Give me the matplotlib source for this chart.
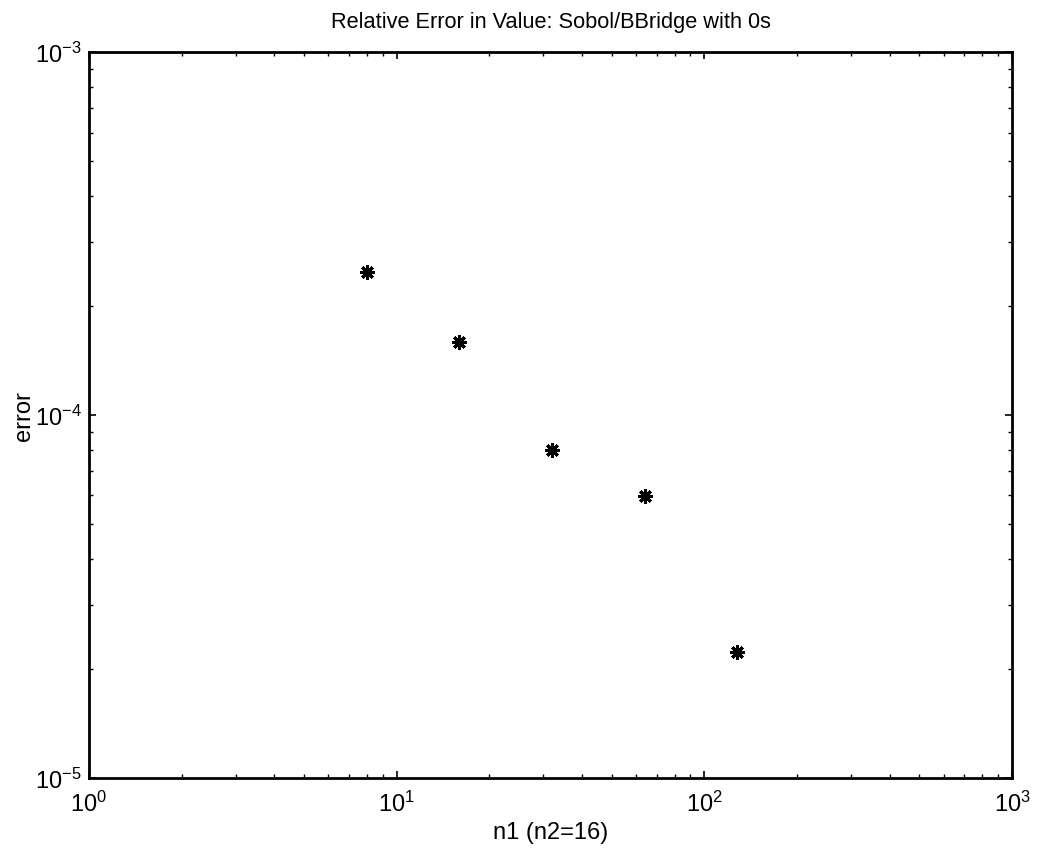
import matplotlib
matplotlib.use("Agg")
import matplotlib.pyplot as plt
from matplotlib.ticker import LogLocator, NullFormatter

plt.rcParams['font.family'] = ['Liberation Sans', 'DejaVu Sans']
plt.rcParams['mathtext.fontset'] = 'custom'
plt.rcParams['mathtext.rm'] = 'Liberation Sans'

n1 = [8, 16, 32, 64, 128]
err = [2.48e-4, 1.59e-4, 8.0e-5, 5.97e-5, 2.23e-5]

fig = plt.figure(figsize=(10.37, 8.53), dpi=100)
ax = fig.add_axes([0.0858, 0.0868, 0.9759 - 0.0858, 0.9379 - 0.0868])
ax.plot(n1, err, linestyle='none', marker=(4, 2, 0), markersize=10.5, markeredgewidth=2.2, color='black')
ax.plot(n1, err, linestyle='none', marker=(4, 2, 45), markersize=10.5, markeredgewidth=2.2, color='black')
ax.set_xscale('log')
ax.set_yscale('log')
ax.set_xlim(1, 1000)
ax.set_ylim(1e-5, 1e-3)
ax.xaxis.set_major_locator(LogLocator(base=10, numticks=10))
ax.yaxis.set_major_locator(LogLocator(base=10, numticks=10))
ax.xaxis.set_minor_locator(LogLocator(base=10, subs=range(2, 10), numticks=10))
ax.yaxis.set_minor_locator(LogLocator(base=10, subs=range(2, 10), numticks=10))
ax.xaxis.set_minor_formatter(NullFormatter())
ax.yaxis.set_minor_formatter(NullFormatter())
ax.tick_params(which='both', direction='in', top=True, right=True, labelsize=17)
ax.tick_params(which='major', length=5, width=1.2)
ax.tick_params(which='minor', length=3, width=1.0)
ax.tick_params(axis='x', which='major', pad=9)
ax.tick_params(axis='y', which='major', pad=5)
for s in ax.spines.values():
    s.set_linewidth(2)
ax.set_title('Relative Error in Value: Sobol/BBridge with 0s', fontsize=15.7, pad=18)
ax.set_xlabel('n1 (n2=16)', fontsize=17, labelpad=4)
ax.set_ylabel('error', fontsize=17, labelpad=0)
fig.savefig('out.png', dpi=100)
